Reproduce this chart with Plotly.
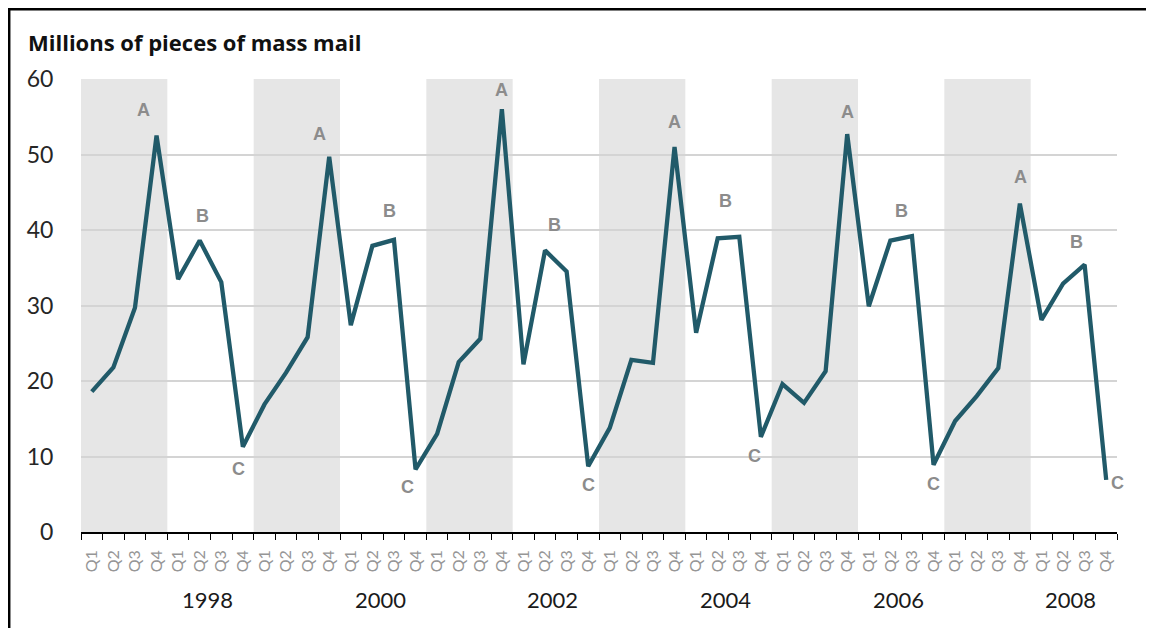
import plotly.graph_objects as go

# ---- data ----
years = list(range(1997, 2009))
quarters = ["Q1", "Q2", "Q3", "Q4"]
mass_mail = [
    18.6, 21.8, 29.7, 52.5,   # 1997
    33.5, 38.6, 33.1, 11.3,   # 1998
    16.9, 21.1, 25.8, 49.7,   # 1999
    27.4, 37.9, 38.7, 8.3,    # 2000
    13.0, 22.5, 25.6, 56.0,   # 2001
    22.2, 37.3, 34.5, 8.7,    # 2002
    13.8, 22.8, 22.4, 51.0,   # 2003
    26.4, 38.9, 39.1, 12.6,   # 2004
    19.6, 17.1, 21.3, 52.7,   # 2005
    29.9, 38.6, 39.2, 8.9,    # 2006
    14.7, 18.0, 21.7, 43.5,   # 2007
    28.1, 32.9, 35.4, 6.9,    # 2008
]
label_text = ["A"] * 6 + ["B"] * 6 + ["C"] * 6
label_point = [3, 11, 19, 27, 35, 43,
               5, 13, 21, 29, 37, 45,
               7, 15, 23, 31, 39, 47]
# pixel offsets of each label from its point (style)
label_dx = [-13, -10, 0, 0, 0, 1,
            3, 17, 9, 8, 11, 13,
            -4, -8, 0, -6, 0, 11]
label_dy = [26, 23, 19, 25, 22, 27,
            25, 35, 25, 37, 30, 42,
            -22, -18, -19, -19, -19, -3]

n = len(mass_mail)
xs = list(range(n))
qlabels = [quarters[i % 4] for i in range(n)]

# page layout (the html body adds an 8px margin)
OFF = 8
W, H = 1154 - OFF, 628 - OFF
L, T = 81 - OFF, 79 - OFF
pw, ph = 1036, 453
R, B = W - L - pw, H - T - ph


def px_to_paper_x(px):
    return (px - OFF - L) / pw


def px_to_paper_y(py):
    return (T + ph - (py - OFF)) / ph


fig = go.Figure()
fig.add_trace(go.Scatter(
    x=xs, y=mass_mail, mode="lines",
    line=dict(color="#215a69", width=4.3, shape="linear"),
    hoverinfo="skip", showlegend=False,
))

shapes = []
annotations = []
for k, yr in enumerate(years):
    x0 = k * 4 - 0.5
    if yr % 2 == 1:
        shapes.append(dict(type="rect", xref="x", yref="y", x0=x0, x1=x0 + 4,
                           y0=0, y1=60, fillcolor="#e6e6e6",
                           line=dict(width=0), layer="below"))
    else:
        annotations.append(dict(x=x0 + 2, y=px_to_paper_y(599), xref="x", yref="paper",
                                text=str(yr), showarrow=False, xshift=-3,
                                xanchor="center", yanchor="middle",
                                font=dict(family="Lato", size=22, color="#1a1a1a")))

for t, p, dx, dy in zip(label_text, label_point, label_dx, label_dy):
    annotations.append(dict(x=p, y=mass_mail[p], xref="x", yref="y", text=t,
                            showarrow=False, xanchor="center", yanchor="middle",
                            xshift=dx, yshift=dy,
                            font=dict(family="Liberation Sans", size=18,
                                      color="#8c8c8c", weight="bold")))

# frame (top and left edges visible)
shapes.append(dict(type="rect", xref="paper", yref="paper",
                   x0=px_to_paper_x(9.2), x1=1.3, y0=-0.5, y1=px_to_paper_y(9.2),
                   line=dict(color="black", width=2.5), fillcolor="rgba(0,0,0,0)",
                   layer="above"))

annotations.append(dict(x=px_to_paper_x(26), y=px_to_paper_y(42), xref="paper", yref="paper",
                        text="<b>Millions of pieces of mass mail</b>", showarrow=False,
                        xanchor="left", yanchor="middle",
                        font=dict(family="Open Sans", size=22, color="#111111")))

fig.update_layout(
    width=W, height=H,
    margin=dict(l=L, r=R, t=T, b=B, autoexpand=False),
    paper_bgcolor="white", plot_bgcolor="white",
    shapes=shapes, annotations=annotations,
    xaxis=dict(
        range=[-0.5, n - 0.5], tickmode="array", tickvals=xs, ticktext=qlabels,
        tickangle=-90, ticks="outside", ticklen=10, tickcolor="rgba(0,0,0,0)",
        tickfont=dict(family="Lato", size=16, color="#969696"),
        showline=True, linecolor="black", linewidth=1.5, showgrid=False,
        zeroline=False, fixedrange=True, automargin=False,
        minor=dict(tickmode="array", tickvals=[i - 0.5 for i in range(n + 1)],
                   ticks="outside", ticklen=6, tickcolor="black", tickwidth=1.2,
                   showgrid=False),
    ),
    yaxis=dict(
        range=[0, 60], tickmode="linear", tick0=0, dtick=10,
        showgrid=True, gridcolor="#d4d4d4", gridwidth=1.5,
        zeroline=False, showline=False, automargin=False,
        ticks="outside", ticklen=22, tickcolor="rgba(0,0,0,0)",
        tickfont=dict(family="Lato", size=23, color="#262626"),
        fixedrange=True,
    ),
)

fig.write_html("out.html")
